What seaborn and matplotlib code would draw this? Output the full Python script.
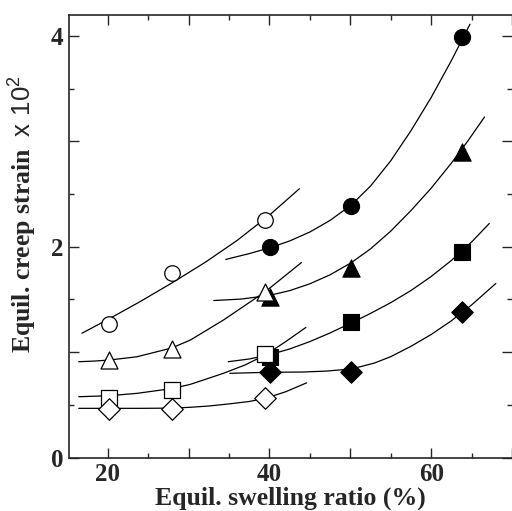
import numpy as np
import pandas as pd
import seaborn as sns
from matplotlib import pyplot as plt
from matplotlib.ticker import MultipleLocator, FuncFormatter

# Marker data (equil. swelling ratio %, equil. creep strain x 10^2)
open_x = [20.2, 27.9, 39.5]
filled_x = [40.1, 50.1, 63.8]

circle_open = [1.27, 1.75, 2.25]
circle_filled = [2.00, 2.39, 3.985]
tri_open = [0.93, 1.03, 1.57]
tri_filled = [1.525, 1.80, 2.90]
square_open = [0.57, 0.64, 0.985]
square_filled = [0.95, 1.29, 1.95]
diamond_open = [0.465, 0.465, 0.565]
diamond_filled = [0.815, 0.815, 1.385]

# Fitted curves
circle_open_cx = [16.8, 20.0, 24.0, 28.0, 32.0, 36.0, 40.0, 43.7]
circle_open_cy = [1.18, 1.31, 1.48, 1.66, 1.85, 2.06, 2.30, 2.55]
circle_filled_cx = [34.6, 37.5, 40.2, 42.5, 45.0, 47.5, 50.1, 52.5, 55.0, 57.5, 60.0, 62.5, 64.8]
circle_filled_cy = [1.88, 1.935, 1.994, 2.055, 2.14, 2.25, 2.395, 2.575, 2.815, 3.10, 3.415, 3.765, 4.11]

tri_open_cx = [16.4, 18.3, 20.2, 23.6, 27.9, 30.2, 34.3, 39.5, 43.95]
tri_open_cy = [0.91, 0.916, 0.926, 0.957, 1.04, 1.115, 1.305, 1.575, 1.85]
tri_filled_cx = [33.1, 36.5, 40.0, 42.5, 45.0, 47.5, 50.1, 52.5, 55.0, 57.5, 60.0, 62.5, 64.5, 66.6]
tri_filled_cy = [1.49, 1.504, 1.539, 1.584, 1.649, 1.734, 1.848, 1.98, 2.148, 2.343, 2.555, 2.793, 2.999, 3.23]

square_open_cx = [16.4, 20.2, 23.6, 27.9, 30.2, 34.3, 37.0, 39.5, 42.0, 44.5]
square_open_cy = [0.578, 0.588, 0.61, 0.655, 0.695, 0.80, 0.88, 0.975, 1.10, 1.235]
square_filled_cx = [34.9, 37.5, 40.0, 42.5, 45.0, 47.5, 50.1, 52.5, 55.0, 57.5, 60.0, 62.5, 65.0, 67.2]
square_filled_cy = [0.91, 0.936, 0.976, 1.031, 1.101, 1.183, 1.277, 1.368, 1.47, 1.585, 1.718, 1.87, 2.045, 2.221]

diamond_open_cx = [16.4, 20.0, 24.0, 28.0, 30.2, 32.5, 35.0, 37.5, 39.5, 42.0, 44.6]
diamond_open_cy = [0.468, 0.468, 0.468, 0.47, 0.478, 0.49, 0.51, 0.533, 0.563, 0.625, 0.71]
diamond_filled_cx = [35.1, 40.0, 44.0, 47.0, 49.0, 51.0, 53.0, 55.0, 57.5, 60.0, 62.5, 65.0, 68.0]
diamond_filled_cy = [0.80, 0.81, 0.812, 0.821, 0.834, 0.858, 0.898, 0.958, 1.056, 1.168, 1.298, 1.448, 1.652]

sns.set_style("ticks")
plt.rcParams['font.family'] = ['Liberation Serif', 'DejaVu Serif']
plt.rcParams['mathtext.fontset'] = 'custom'
plt.rcParams['mathtext.sf'] = 'Liberation Sans'

fig = plt.figure(figsize=(5.12, 5.11), dpi=100)
ax = fig.add_axes([69 / 512, 1 - 457.7 / 511, (512 - 69) / 512, (457.7 - 14.7) / 511])

curves = [
    (circle_open_cx, circle_open_cy), (circle_filled_cx, circle_filled_cy),
    (tri_open_cx, tri_open_cy), (tri_filled_cx, tri_filled_cy),
    (square_open_cx, square_open_cy), (square_filled_cx, square_filled_cy),
    (diamond_open_cx, diamond_open_cy), (diamond_filled_cx, diamond_filled_cy),
]
for cx, cy in curves:
    sns.lineplot(x=cx, y=cy, color='black', linewidth=0.9, sort=False,
                 estimator=None, ax=ax, zorder=2)

# filled markers first, open ones drawn over them
filled = [(circle_filled, 'o', 135), (tri_filled, '^', 155),
          (square_filled, 's', 125), (diamond_filled, 'D', 120)]
hollow = [(circle_open, 'o', 125), (tri_open, '^', 150),
          (square_open, 's', 125), (diamond_open, 'D', 120)]
for ys, m, s in filled:
    sns.scatterplot(x=filled_x, y=ys, marker=m, s=s, color='black',
                    edgecolor='black', linewidth=0.8, ax=ax, zorder=3)
for ys, m, s in hollow:
    sns.scatterplot(x=open_x, y=ys, marker=m, s=s, color='white',
                    edgecolor='black', linewidth=0.9, ax=ax, zorder=4)

ax.set_xlim(15.2, 70)
ax.set_ylim(0, 4.2)

ax.xaxis.set_major_locator(MultipleLocator(10))
ax.xaxis.set_minor_locator(MultipleLocator(5))
ax.yaxis.set_major_locator(MultipleLocator(1))
ax.yaxis.set_minor_locator(MultipleLocator(0.5))
ax.xaxis.set_major_formatter(FuncFormatter(lambda v, p: f"{v:.0f}" if round(v) % 20 == 0 else ""))
ax.yaxis.set_major_formatter(FuncFormatter(lambda v, p: f"{v:.0f}" if round(v) % 2 == 0 else ""))

ax.tick_params(which='both', direction='in', top=True, right=True, width=1.0)
ax.tick_params(which='major', length=7, labelsize=18, pad=4)
ax.tick_params(which='minor', length=3.5)
for lab in ax.get_xticklabels() + ax.get_yticklabels():
    lab.set_fontweight('bold')

for side in ['left', 'bottom', 'top']:
    ax.spines[side].set_linewidth(1.2)
ax.spines['right'].set_visible(False)

ax.set_xlabel("Equil. swelling ratio (%)", fontsize=18.5, fontweight='bold', labelpad=0)
ax.set_ylabel(r"Equil. creep strain  $\mathsf{x\ 10^2}$", fontsize=18.5,
              fontweight='bold')
ax.yaxis.set_label_coords(-0.068, 0.55)

fig.savefig("out.png", dpi=100)
